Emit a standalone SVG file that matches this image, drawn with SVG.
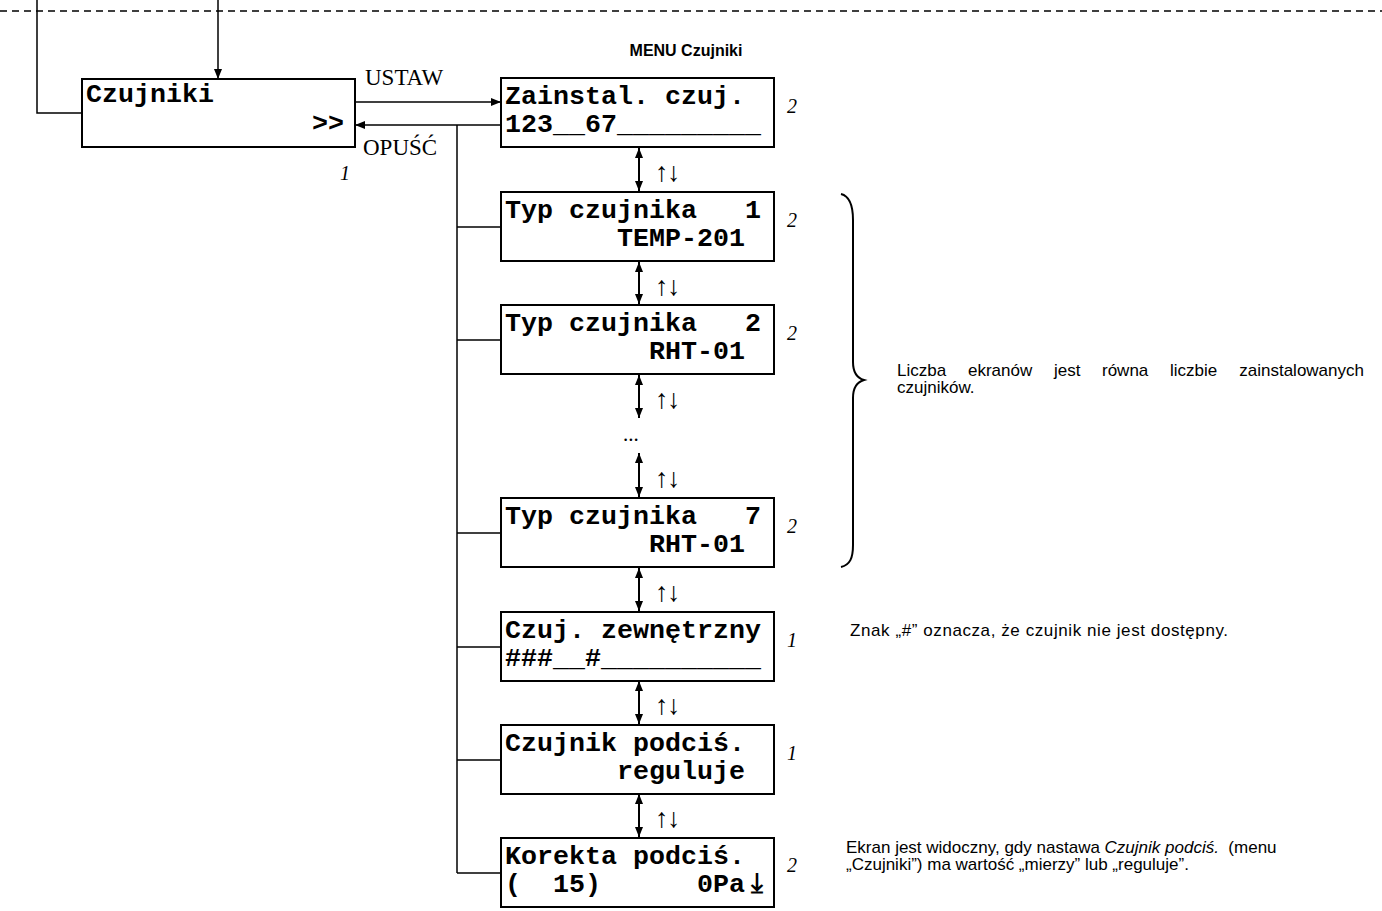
<svg xmlns="http://www.w3.org/2000/svg" width="1382" height="911" viewBox="0 0 1382 911" xml:space="preserve">
<style>
.box{fill:#fff;stroke:#000;stroke-width:2}
.lcd{font-family:"Liberation Mono","Courier New",monospace;font-weight:bold;font-size:26.67px;fill:#000;white-space:pre}
.num{font-family:"Liberation Serif","Times New Roman",serif;font-style:italic;font-size:20px;fill:#000}
.lbl{font-family:"Liberation Serif","Times New Roman",serif;font-size:23px;fill:#000}
.ud{font-family:"Liberation Serif","Times New Roman",serif;font-size:27px;letter-spacing:-1.5px;fill:#000}
.dots{font-family:"Liberation Serif","Times New Roman",serif;font-size:21px;fill:#000}
.note{font-family:"Liberation Sans",Arial,sans-serif;font-size:17px;fill:#000;white-space:pre}
.title{font-family:"Liberation Sans",Arial,sans-serif;font-weight:bold;font-size:16px;fill:#000}
.ln{fill:none;stroke:#000;stroke-width:1.5}
.arr{fill:none;stroke:#000;stroke-width:1.5;marker-end:url(#ah)}
.dbl{fill:none;stroke:#000;stroke-width:2;marker-start:url(#ah);marker-end:url(#ah)}
</style>
<defs>
<marker id="ah" viewBox="0 0 10 8" refX="10" refY="4" markerWidth="10" markerHeight="8" markerUnits="userSpaceOnUse" orient="auto-start-reverse"><path d="M0,0 L10,4 L0,8 z" fill="#000"/></marker>
</defs>

<g id="connectors">
<line class="ln" x1="0" y1="11" x2="1382" y2="11" stroke-dasharray="7 5"/>
<polyline class="ln" points="37,0 37,113 82,113"/>
<line class="arr" x1="218" y1="0" x2="218" y2="79"/>
<line class="arr" x1="355" y1="102" x2="501" y2="102"/>
<line class="arr" x1="501" y1="125" x2="355" y2="125"/>
<line class="ln" x1="457" y1="125" x2="457" y2="873"/>
<line class="ln" x1="457" y1="227" x2="501" y2="227"/>
<line class="ln" x1="457" y1="340" x2="501" y2="340"/>
<line class="ln" x1="457" y1="533" x2="501" y2="533"/>
<line class="ln" x1="457" y1="647" x2="501" y2="647"/>
<line class="ln" x1="457" y1="760" x2="501" y2="760"/>
<line class="ln" x1="457" y1="873" x2="501" y2="873"/>
<line class="dbl" x1="639" y1="148" x2="639" y2="191"/>
<line class="dbl" x1="639" y1="262" x2="639" y2="304"/>
<line class="dbl" x1="639" y1="375" x2="639" y2="418"/>
<line class="dbl" x1="639" y1="453" x2="639" y2="497"/>
<line class="dbl" x1="639" y1="568" x2="639" y2="611"/>
<line class="dbl" x1="639" y1="681" x2="639" y2="724"/>
<line class="dbl" x1="639" y1="794" x2="639" y2="837"/>
<text class="lbl" x="365" y="85">USTAW</text>
<text class="lbl" x="363" y="155">OPUŚĆ</text>
<text class="ud" x="655" y="181">↑↓</text>
<text class="ud" x="655" y="295">↑↓</text>
<text class="ud" x="655" y="408">↑↓</text>
<text class="ud" x="655" y="487">↑↓</text>
<text class="ud" x="655" y="601">↑↓</text>
<text class="ud" x="655" y="714">↑↓</text>
<text class="ud" x="655" y="827">↑↓</text>
<text class="dots" x="623" y="441">...</text>
</g>

<text class="title" x="686" y="56" text-anchor="middle">MENU Czujniki</text>

<g id="node-czujniki">
<rect class="box" x="82" y="79" width="273" height="68"/>
<text class="lcd" x="86" y="102">Czujniki</text>
<text class="lcd" x="312" y="131">&gt;&gt;</text>
<text class="num" x="340" y="180">1</text>
</g>

<g id="node-zainstal">
<rect class="box" x="501" y="78" width="273" height="69"/>
<text class="lcd" x="505" y="104">Zainstal. czuj.</text>
<text class="lcd" x="505" y="132">123__67_________</text>
<text class="num" x="787" y="113">2</text>
</g>

<g id="node-typ1">
<rect class="box" x="501" y="192" width="273" height="69"/>
<text class="lcd" x="505" y="218">Typ czujnika   1</text>
<text class="lcd" x="505" y="246">       TEMP-201</text>
<text class="num" x="787" y="227">2</text>
</g>

<g id="node-typ2">
<rect class="box" x="501" y="305" width="273" height="69"/>
<text class="lcd" x="505" y="331">Typ czujnika   2</text>
<text class="lcd" x="505" y="359">         RHT-01</text>
<text class="num" x="787" y="340">2</text>
</g>

<g id="node-typ7">
<rect class="box" x="501" y="498" width="273" height="69"/>
<text class="lcd" x="505" y="524">Typ czujnika   7</text>
<text class="lcd" x="505" y="552">         RHT-01</text>
<text class="num" x="787" y="533">2</text>
</g>

<g id="node-zewn">
<rect class="box" x="501" y="612" width="273" height="69"/>
<text class="lcd" x="505" y="638">Czuj. zewnętrzny</text>
<text class="lcd" x="505" y="666">###__#__________</text>
<text class="num" x="787" y="647">1</text>
</g>

<g id="node-podcis">
<rect class="box" x="501" y="725" width="273" height="69"/>
<text class="lcd" x="505" y="751">Czujnik podciś.</text>
<text class="lcd" x="505" y="779">       reguluje</text>
<text class="num" x="787" y="760">1</text>
</g>

<g id="node-korekta">
<rect class="box" x="501" y="838" width="273" height="69"/>
<text class="lcd" x="505" y="864">Korekta podciś.</text>
<text class="lcd" x="505" y="892">(  15)      0Pa</text>
<text x="757" y="892" text-anchor="middle" style="font-family:'DejaVu Sans',sans-serif;font-weight:bold;font-size:27px">⤓</text>
<text class="num" x="787" y="872">2</text>
</g>

<g id="brace">
<path d="M841,194 C849,196 853,205 853,220 L853,362 C853,373 857,378 864,380 C857,382 853,387 853,398 L853,545 C853,558 850,565 841,567" fill="none" stroke="#000" stroke-width="2"/>
</g>

<g id="notes">
<text class="note" x="897" y="376">Liczba</text>
<text class="note" x="968" y="376">ekranów</text>
<text class="note" x="1054" y="376">jest</text>
<text class="note" x="1102" y="376">równa</text>
<text class="note" x="1170" y="376">liczbie</text>
<text class="note" x="1364" y="376" text-anchor="end">zainstalowanych</text>
<text class="note" x="897" y="393">czujników.</text>
<text class="note" x="850" y="636" textLength="378" lengthAdjust="spacing">Znak „#” oznacza, że czujnik nie jest dostępny.</text>
<text class="note" x="846" y="853">Ekran jest widoczny, gdy nastawa <tspan font-style="italic">Czujnik podciś.</tspan>  (menu</text>
<text class="note" x="846" y="870">„Czujniki”) ma wartość „mierzy” lub „reguluje”.</text>
</g>
</svg>
